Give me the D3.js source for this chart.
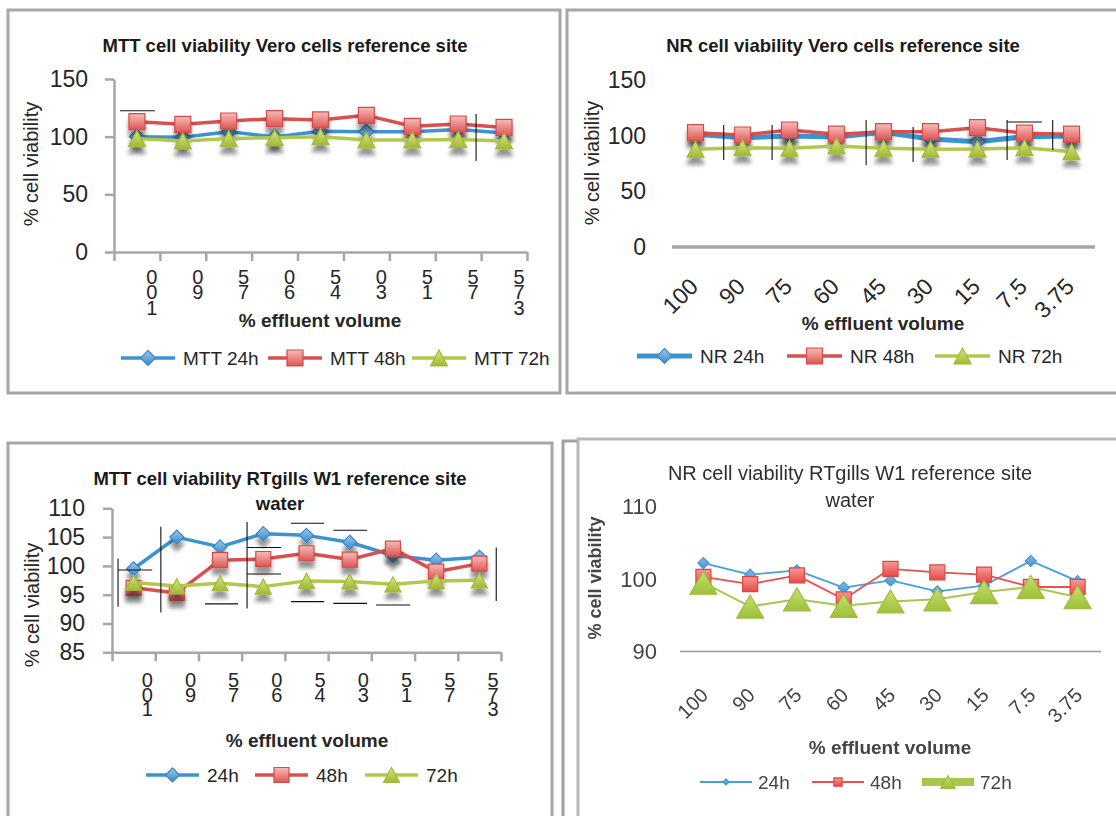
<!DOCTYPE html>
<html><head><meta charset="utf-8">
<script src="https://cdn.jsdelivr.net/npm/d3@7"></script>
<style>
body{margin:0;background:#fff}
svg{display:block}
text{font-family:"Liberation Sans",Arial,sans-serif}
</style>
</head><body>
<svg id="c" width="1116" height="816"></svg>
<script>
// ---------------- DATA ----------------
const categories = ["100","90","75","60","45","30","15","7.5","3.75"];

const mttVero24 = [100, 99.5, 104.3, 99.7, 104.6, 104.3, 104.3, 106.3, 103.2];
const mttVero48 = [113, 110.7, 113.6, 115.6, 114.5, 118.5, 109, 111, 108];
const mttVero72 = [98.3, 96.3, 98.3, 99.1, 100, 97.1, 97.1, 97.6, 96.3];

const nrVero24 = [101.3, 98.2, 99.7, 98.8, 103.1, 97, 94.5, 99.1, 99.7];
const nrVero48 = [102.7, 100.6, 105.1, 101.3, 103.6, 103.6, 107.2, 102.2, 101.3];
const nrVero72 = [87.8, 89.2, 88.7, 90.7, 88.7, 87.8, 88, 89.2, 85.6];

const mttGill24 = [99.5, 105, 103.3, 105.6, 105.3, 104.1, 101.8, 101.0, 101.5];
const mttGill48 = [96.2, 95.3, 101, 101.2, 102.2, 101.1, 103, 99, 100.4];
const mttGill72 = [97.1, 96.5, 97, 96.4, 97.4, 97.3, 96.8, 97.4, 97.5];

const nrGill24 = [102.2, 100.6, 101.2, 98.8, 99.8, 98.3, 99.1, 102.5, 99.7];
const nrGill48 = [100.3, 99.3, 100.5, 97.2, 101.4, 100.9, 100.6, 98.9, 98.9];
const nrGill72 = [99.5, 96.2, 97.2, 96.3, 96.9, 97.2, 98.2, 98.9, 97.5];

const yTicksVero = [0, 50, 100, 150];
const yTicksMttGill = [85, 90, 95, 100, 105, 110];
const yTicksNrGill = [90, 100, 110];

const titleMttVero = ["MTT cell viability Vero cells reference site"];
const titleNrVero = ["NR cell viability Vero cells reference site"];
const titleMttGill = ["MTT cell viability RTgills W1 reference site", "water"];
const titleNrGill = ["NR cell viability RTgills W1 reference site", "water"];
const yAxisTitle = "% cell viability";
const xAxisTitle = "% effluent volume";

const legendMttVero = ["MTT 24h", "MTT 48h", "MTT 72h"];
const legendNrVero = ["NR 24h", "NR 48h", "NR 72h"];
const legendGill = ["24h", "48h", "72h"];

// stray error-bar strokes: [categoryPos0, value0, categoryPos1, value1]
const errMttVero = [[0.13,122.5,0.89,122.5],[7.89,119.7,7.89,78.9]];
const errNrVero = [[1.1,109.6,1.1,78.2],[2.13,109.6,2.13,78.2],[4.13,114.1,4.13,73.7],[5.13,107.8,5.13,76.4],
                   [7.13,114.1,7.13,78.2],[8.1,114.1,8.1,87.2],[7.13,112.3,7.87,112.3]];
const errMttGill = [[0.14,101.3,0.14,92.9],[0.14,99.3,0.93,99.3],[1.13,106.8,1.13,91.9],[2.15,93.4,2.92,93.4],
                    [3.125,107.6,3.125,92.6],[3.125,103.2,3.91,103.2],[3.125,98.6,3.91,98.6],
                    [4.14,107.4,4.91,107.4],[4.14,93.8,4.91,93.8],[5.12,106.2,5.9,106.2],[5.12,93.5,5.9,93.5],
                    [6.11,93.2,6.9,93.2],[8.89,103.2,8.89,93.9]];

// ---------------- DRAWING ----------------
const svg = d3.select('#c');
const defs = svg.append('defs');
function grad(id, c1, c2){
  const lg = defs.append('linearGradient').attr('id',id).attr('x1',0).attr('y1',0).attr('x2',0).attr('y2',1);
  lg.append('stop').attr('offset','0%').attr('stop-color',c1);
  lg.append('stop').attr('offset','100%').attr('stop-color',c2);
}
grad('gB','#9ccaee','#3a88c8');
grad('gR','#f7bcba','#dd5552');
grad('gG','#d8e68a','#9fba30');
grad('gB4','#7fbbe8','#3f97d8');
grad('gR4','#f59a98','#e64a47');
grad('gG4','#c9df6d','#9cc03a');

const f = defs.append('filter').attr('id','shd').attr('x','-60%').attr('y','-60%').attr('width','220%').attr('height','260%');
f.append('feGaussianBlur').attr('in','SourceAlpha').attr('stdDeviation',2.2).attr('result','b');
f.append('feOffset').attr('in','b').attr('dy',7).attr('result','o');
f.append('feComponentTransfer').attr('in','o').attr('result','s').append('feFuncA').attr('type','linear').attr('slope',0.42);
const fm = f.append('feMerge'); fm.append('feMergeNode').attr('in','s'); fm.append('feMergeNode').attr('in','SourceGraphic');

const fb = defs.append('filter').attr('id','blur4');
fb.append('feGaussianBlur').attr('stdDeviation',0.55);

function markerPath(type, w, h){
  if(type==='sq') return `M${-w/2},${-w/2}h${w}v${w}h${-w}Z`;
  if(type==='di') return `M0,${-w/2}L${w/2},0L0,${w/2}L${-w/2},0Z`;
  return `M0,${-h/2}L${w/2},${h/2}L${-w/2},${h/2}Z`;
}

// panel frames
svg.append('rect').attr('x',8).attr('y',10).attr('width',552).attr('height',383).attr('fill','none').attr('stroke','#a6a6a6').attr('stroke-width',3);
svg.append('rect').attr('x',567).attr('y',10).attr('width',560).attr('height',383).attr('fill','none').attr('stroke','#a6a6a6').attr('stroke-width',3);
svg.append('rect').attr('x',8).attr('y',443).attr('width',544).attr('height',420).attr('fill','none').attr('stroke','#a6a6a6').attr('stroke-width',3);
svg.append('path').attr('d','M563,830V441H578').attr('fill','none').attr('stroke','#a0a0a0').attr('stroke-width',3);
svg.append('rect').attr('x',578).attr('y',439).attr('width',560).attr('height',420).attr('fill','none').attr('stroke','#b8b8b8').attr('stroke-width',3);

function drawPanel(c){
  const g = svg.append('g');
  if (c.blur) g.attr('filter','url(#blur4)');
  const x = d3.scaleBand().domain(categories).range([c.x0, c.x1]);
  const xPos = d3.scaleLinear().domain([0, categories.length]).range([c.x0, c.x1]);
  const y = d3.scaleLinear().domain(c.domain).range([c.yBottom, c.yTop]);
  const cx = i => x(categories[i]) + x.bandwidth()/2;

  c.title.forEach((t,k)=>{
    g.append('text').attr('x',c.titleX).attr('y',c.titleY[k]).attr('text-anchor','middle')
      .attr('dominant-baseline','central').attr('font-size',c.titleSize).attr('font-weight',c.titleWeight)
      .attr('fill',c.titleColor).text(t);
  });
  const ya = d3.axisLeft(y).tickValues(c.yTicks).tickSizeOuter(0).tickFormat(d3.format('d'));
  if (c.boxed) ya.tickSizeInner(9).tickPadding(c.yPad - 9); else ya.tickSize(0).tickPadding(c.yPad);
  const yg = g.append('g').attr('transform',`translate(${c.x0},0)`).call(ya);
  yg.selectAll('text').attr('font-size',c.yTickSize).attr('fill',c.textColor).attr('font-family','"Liberation Sans",Arial,sans-serif');
  yg.selectAll('line').attr('stroke','#a6a6a6').attr('stroke-width',2.5);
  if (c.boxed) yg.select('.domain').attr('stroke','#a6a6a6').attr('stroke-width',2.5);
  else yg.select('.domain').remove();

  const xa = d3.axisBottom(xPos).tickValues(d3.range(categories.length+1)).tickFormat('').tickSizeOuter(0)
    .tickSizeInner(c.boxed ? 9 : 0);
  const xg = g.append('g').attr('transform',`translate(0,${c.yBottom})`).call(xa);
  xg.select('.domain').attr('stroke',c.axisColor).attr('stroke-width',c.axisW);
  xg.selectAll('line').attr('stroke','#a6a6a6').attr('stroke-width',2.5);
  if (!c.boxed) { xg.select('.domain').attr('d',`M${c.x0},0H${c.axisEnd}`); }

  if (c.labelMode === 'stacked') {
    categories.forEach((lab,i)=>{
      const chars = lab.split('').reverse().filter(ch => ch !== '.').join('');
      g.append('text').attr('x', xPos(i+1) - 8).attr('y', c.stackY - c.stackDy/2)
        .style('writing-mode','vertical-rl').style('text-orientation','upright')
        .attr('letter-spacing', c.stackDy - 1.15*c.catSize)
        .attr('font-size',c.catSize).attr('fill',c.textColor).text(chars);
    });
  } else {
    categories.forEach((lab,i)=>{
      g.append('text').attr('text-anchor','end').attr('font-size',c.catSize).attr('fill',c.textColor)
        .attr('transform',`translate(${cx(i)+c.rotDx},${c.yBottom+c.rotDy}) rotate(-45)`).text(lab);
    });
  }
  g.append('text').attr('transform',`translate(${c.yTitleX},${c.yTitleY}) rotate(-90)`).attr('text-anchor','middle')
    .attr('dominant-baseline','central').attr('font-size',c.yTitleSize).attr('font-weight',c.yTitleWeight)
    .attr('fill',c.textColor).text(yAxisTitle);
  g.append('text').attr('x',c.xTitleX).attr('y',c.xTitleY).attr('text-anchor','middle').attr('dominant-baseline','central')
    .attr('font-size',c.xTitleSize).attr('font-weight','bold').attr('fill',c.textColor).text(xAxisTitle);

  const types = ['di','sq','tri'];
  const line = d3.line().x((d,i)=>cx(i)).y(d=>y(d));
  c.series.forEach((s,k)=>{
    g.append('path').datum(s).attr('d',line).attr('fill','none').attr('stroke',c.colors[k])
      .attr('stroke-width',c.lineW[k]).attr('stroke-linejoin','round');
    const mg = g.append('g');
    if (c.shadow) mg.attr('filter','url(#shd)');
    mg.selectAll('path').data(s).join('path')
      .attr('transform',(d,i)=>`translate(${cx(i)},${y(d)})`)
      .attr('d',markerPath(types[k], c.msize[k][0], c.msize[k][1]))
      .attr('fill',`url(#${c.fills[k]})`).attr('stroke',c.mstroke[k]).attr('stroke-width',1.2);
  });
  (c.segs||[]).forEach(sg=>{
    g.append('line').attr('x1',xPos(sg[0])).attr('y1',y(sg[1])).attr('x2',xPos(sg[2])).attr('y2',y(sg[3]))
      .attr('stroke','#111').attr('stroke-width',1.1);
  });

  c.names.forEach((nm,k)=>{
    const lx = c.legendX[k];
    const lw = c.legendLineW ? c.legendLineW[k] : c.lineW[k];
    g.append('line').attr('x1',lx).attr('x2',lx+c.legendLen).attr('y1',c.legendY).attr('y2',c.legendY)
      .attr('stroke',c.colors[k]).attr('stroke-width',lw);
    g.append('path').attr('transform',`translate(${lx+c.legendLen/2},${c.legendY})`)
      .attr('d',markerPath(types[k], c.msize[k][0]*c.legendScale, c.msize[k][1]*c.legendScale))
      .attr('fill',`url(#${c.fills[k]})`).attr('stroke',c.mstroke[k]).attr('stroke-width',1.2);
    g.append('text').attr('x',lx+c.legendLen+c.legendGap).attr('y',c.legendY).attr('dominant-baseline','central')
      .attr('font-size',c.legendSize).attr('fill',c.textColor).text(nm);
  });
}

const base = {
  titleSize:18.5, titleWeight:'bold', titleColor:'#1a1a1a', textColor:'#262626',
  yTickSize:23, yTitleSize:20, yTitleWeight:'normal', xTitleSize:19, catSize:19, legendSize:19,
  colors:['#3b93d0','#d9504e','#b3c74a'], fills:['gB','gR','gG'], mstroke:['#3a86c6','#d24b48','#a3ba38'],
  lineW:[3.5,3.5,3.5], shadow:true, axisColor:'#a6a6a6', axisW:2.5, legendScale:1, legendGap:8
};

drawPanel(Object.assign({}, base, {
  x0:114, x1:527, yTop:79, yBottom:252, domain:[0,150], yTicks:yTicksVero, boxed:true, yPad:26,
  series:[mttVero24, mttVero48, mttVero72], names:legendMttVero, title:titleMttVero,
  titleX:285, titleY:[45], yTitleX:31, yTitleY:164, xTitleX:320, xTitleY:320,
  labelMode:'stacked', catSize:20, stackY:274, stackDy:16.5,
  legendY:358, legendX:[121,268,412], legendLen:54,
  msize:[[15,15],[16,16],[17,16]], segs:errMttVero
}));

drawPanel(Object.assign({}, base, {
  x0:672, x1:1095, axisEnd:1095, yTop:80, yBottom:247, domain:[0,150], yTicks:yTicksVero, boxed:false, yPad:26,
  axisW:3.5,
  series:[nrVero24, nrVero48, nrVero72], names:legendNrVero, title:titleNrVero,
  titleX:843, titleY:[45], yTitleX:592, yTitleY:163, xTitleX:883, xTitleY:323,
  labelMode:'rot', catSize:23, rotDx:4, rotDy:41,
  lineW:[5,3.5,3.5],
  legendY:356, legendX:[637,787,935], legendLen:55,
  msize:[[15,15],[16,16],[17,16]], segs:errNrVero
}));

drawPanel(Object.assign({}, base, {
  x0:112, x1:501, yTop:508.3, yBottom:652.3, domain:[85,110], yTicks:yTicksMttGill, boxed:true, yPad:27,
  series:[mttGill24, mttGill48, mttGill72], names:legendGill, title:titleMttGill,
  titleX:280, titleY:[478,503], yTitleX:32, yTitleY:605, xTitleX:307, xTitleY:740,
  labelMode:'stacked', catSize:20, stackY:677, stackDy:15.5,
  legendY:775, legendX:[146,255,365], legendLen:53,
  msize:[[14,14],[15,15],[16,15]], segs:errMttGill
}));

drawPanel(Object.assign({}, base, {
  x0:680, x1:1101, axisEnd:1101, yTop:506.5, yBottom:651.5, domain:[90,110], yTicks:yTicksNrGill, boxed:false, yPad:23,
  titleSize:20, titleWeight:'normal', titleColor:'#2e2e2e', textColor:'#444', yTickSize:22,
  yTitleSize:18, yTitleWeight:'bold', axisColor:'#9a9a9a', axisW:1.6, shadow:false, blur:true,
  colors:['#4a9edb','#e8504d','#a8c64b'], fills:['gB4','gR4','gG4'], mstroke:['#4592cf','#de4541','#9fbe40'],
  lineW:[1.8,1.8,2], legendLineW:[1.8,1.8,8],
  series:[nrGill24, nrGill48, nrGill72], names:legendGill, title:titleNrGill,
  titleX:850, titleY:[473,500], yTitleX:595, yTitleY:578, xTitleX:890, xTitleY:747,
  labelMode:'rot', catSize:20, rotDx:6, rotDy:45,
  legendY:782, legendX:[700,812,922], legendLen:52, legendScale:0.55, legendGap:6,
  msize:[[11,11],[15,15],[27,23]], segs:[]
}));
</script>
</body></html>
